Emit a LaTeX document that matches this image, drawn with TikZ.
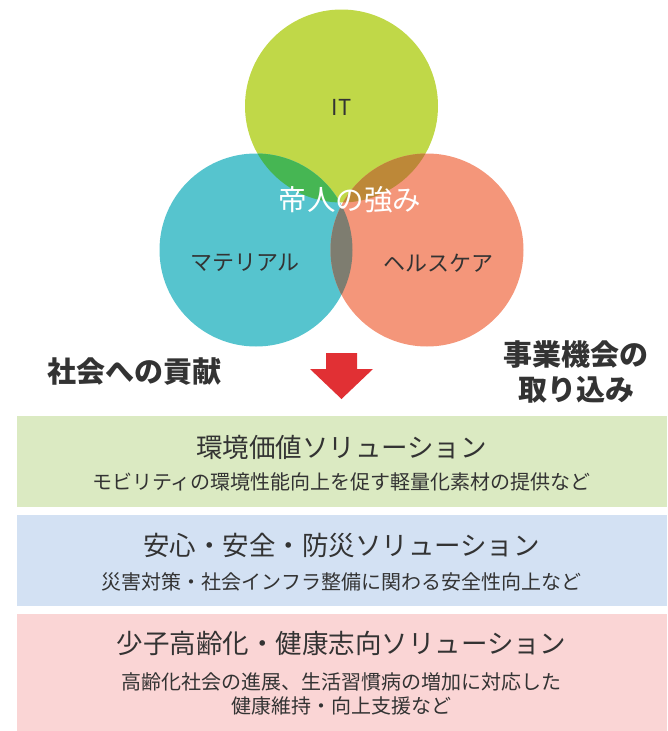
\documentclass[tikz,border=0pt]{standalone}
\usepackage{fontspec}
\setmainfont{Noto Sans CJK JP}
\definecolor{itgreen}{RGB}{192,216,72}
\definecolor{matteal}{RGB}{86,196,206}
\definecolor{hcsalmon}{RGB}{244,150,122}
\definecolor{ovgreen}{RGB}{70,182,83}
\definecolor{ovbrown}{RGB}{189,136,56}
\definecolor{ovgray}{RGB}{126,125,112}
\definecolor{arrowred}{RGB}{225,48,52}
\definecolor{boxgreen}{RGB}{219,234,194}
\definecolor{boxblue}{RGB}{211,225,243}
\definecolor{boxpink}{RGB}{250,213,213}
\definecolor{txtgray}{RGB}{51,51,51}
\begin{document}
\begin{tikzpicture}[x=1pt, y=-1pt,
  circtext/.style={text=txtgray, inner sep=0pt, font=\fontsize{22}{22}\selectfont},
  headtext/.style={text=txtgray, inner sep=0pt, font=\bfseries\fontsize{29}{29}\selectfont},
  titletext/.style={text=txtgray, inner sep=0pt, font=\fontsize{26.5}{26.5}\selectfont},
  subtext/.style={text=txtgray, inner sep=0pt, font=\fontsize{20}{20}\selectfont}]
\useasboundingbox (0,0) rectangle (667,731);
% the three circles
\coordinate (itc) at (341.5,106);
\coordinate (matc) at (256,250);
\coordinate (hcc) at (427,250);
\fill[itgreen] (itc) circle (96.5pt);
\fill[matteal] (matc) circle (96.5pt);
\fill[hcsalmon] (hcc) circle (96.5pt);
\begin{scope}
\clip (itc) circle (96.5pt);
\fill[ovgreen] (matc) circle (96.5pt);
\fill[ovbrown] (hcc) circle (96.5pt);
\end{scope}
\begin{scope}
\clip (matc) circle (96.5pt);
\fill[ovgray] (hcc) circle (96.5pt);
\end{scope}
\node[circtext] (it) at (341.5,107) {IT};
\node[circtext] (mat) at (245,263) {マテリアル};
\node[circtext] (hc) at (438,263) {ヘルスケア};
\node[circtext, text=white, font=\fontsize{28.5}{28.5}\selectfont] (core) at (350,200) {帝人の強み};
% labels and arrow
\node[headtext] (contrib) at (134,372) {社会への貢献};
\node[headtext, align=center, font=\bfseries\fontsize{29}{35}\selectfont] (biz) at (576,372) {事業機会の\\取り込み};
\fill[arrowred] (326,353) -- (357,353) -- (357,369) -- (373,369) -- (341.5,399)
  -- (310,369) -- (326,369) -- cycle;
% solution boxes
\fill[boxgreen] (17,416) rectangle (667,507);
\fill[boxblue] (17,515) rectangle (667,606);
\fill[boxpink] (17,614) rectangle (667,731);
\node[titletext] (env) at (341.5,447) {環境価値ソリューション};
\node[subtext] (envsub) at (341.5,482) {モビリティの環境性能向上を促す軽量化素材の提供など};
\node[titletext] (safe) at (341.5,545) {安心・安全・防災ソリューション};
\node[subtext] (safesub) at (341.5,582) {災害対策・社会インフラ整備に関わる安全性向上など};
\node[titletext] (aging) at (341.5,643) {少子高齢化・健康志向ソリューション};
\node[subtext, align=center, font=\fontsize{20}{24}\selectfont] (agingsub) at (341.5,694)
  {高齢化社会の進展、生活習慣病の増加に対応した\\健康維持・向上支援など};
\end{tikzpicture}
\end{document}
